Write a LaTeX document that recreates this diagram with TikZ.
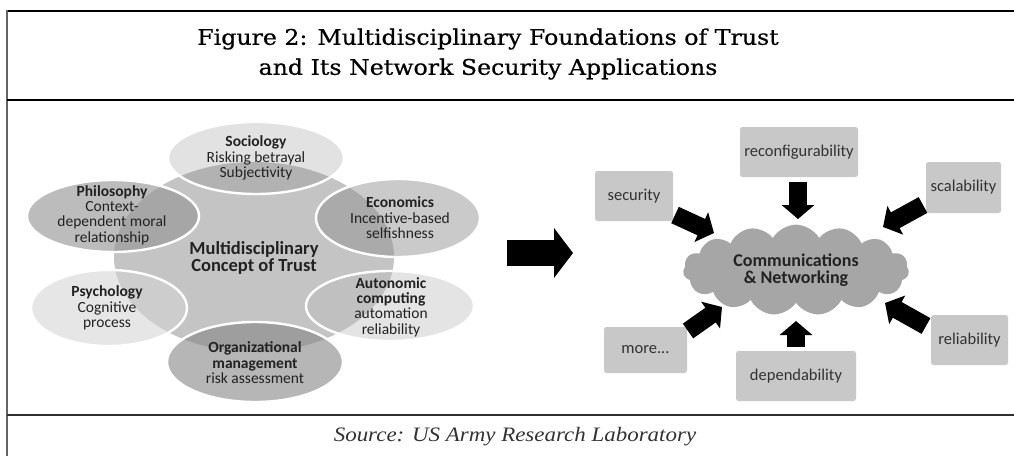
\documentclass[tikz,border=0pt]{standalone}
\usepackage{fontspec}
\setmainfont{Carlito}
\newfontfamily\titlefont[FakeStretch=1.1,FakeBold=0.6]{DejaVu Serif}
\newfontfamily\sourcefont[FakeStretch=1.12]{Liberation Serif}
\usetikzlibrary{arrows.meta,shapes.symbols}

\definecolor{coreGray}{RGB}{196,196,196}
\definecolor{sociologyOut}{RGB}{226,226,226}
\definecolor{sociologyIn}{RGB}{178,178,178}
\definecolor{philosophyOut}{RGB}{188,188,188}
\definecolor{philosophyIn}{RGB}{166,166,166}
\definecolor{economicsOut}{RGB}{202,202,202}
\definecolor{economicsIn}{RGB}{170,170,170}
\definecolor{autonomicOut}{RGB}{228,228,228}
\definecolor{autonomicIn}{RGB}{192,192,192}
\definecolor{organizOut}{RGB}{182,182,182}
\definecolor{organizIn}{RGB}{158,158,158}
\definecolor{psychologyOut}{RGB}{230,230,230}
\definecolor{psychologyIn}{RGB}{205,205,205}
\definecolor{labelInk}{RGB}{34,34,34}
\definecolor{boxGray}{RGB}{200,200,200}
\definecolor{boxInk}{RGB}{50,50,50}
\definecolor{cloudGray}{RGB}{166,166,166}
\definecolor{frameGray}{RGB}{100,100,100}

% one satellite ellipse: centre, x radius, y radius, outer fill, fill where it covers the core
\newcommand\trustpetal[5]{%
  \fill[#4] #1 ellipse [x radius=#2pt, y radius=#3pt];
  \begin{scope}
    \clip (core) ellipse [x radius=140pt, y radius=95pt];
    \fill[#5] #1 ellipse [x radius=#2pt, y radius=#3pt];
  \end{scope}
  \draw[white, line width=2.4pt] #1 ellipse [x radius=#2pt, y radius=#3pt];
}

\tikzset{
  petaltext/.style={align=center, text=labelInk, inner sep=0pt,
    font=\fontsize{15.5}{15.4}\selectfont},
  infobox/.style={fill=boxGray, rounded corners=2.5pt, text=boxInk, inner sep=0pt,
    font=\fontsize{16.5}{18}\selectfont},
  blockarrow/.style={line width=18pt, -{Triangle[width=32pt,length=14pt]}},
  framerule/.style={line width=1.4pt, black},
}

\begin{document}
\begin{tikzpicture}[x=1pt,y=-1pt]
\useasboundingbox (0,0) rectangle (1014,455);
\clip (0,0) rectangle (1014,455);
\fill[white] (0,0) rectangle (1014,455);

% frame and dividers
\draw[framerule] (1020,11) -- (7,11);
\draw[line width=2pt, frameGray] (7,10.3) -- (7,460);
\draw[framerule] (7,100) -- (1020,100);
\draw[line width=2.4pt, black!82] (7,415) -- (1020,415);

% title and source line
\node[font=\titlefont\fontsize{21.5}{30}\selectfont, align=center, inner sep=0pt] (title) at (488,54)
  {Figure 2: Multidisciplinary Foundations of Trust\\and Its Network Security Applications};
\node[font=\sourcefont\itshape\fontsize{20.5}{24}\selectfont, text=black!80, inner sep=0pt] (source) at (515,437)
  {Source: US Army Research Laboratory};

% ---- left: multidisciplinary concept of trust ----
\coordinate (core) at (254,257);
\fill[coreGray] (core) ellipse [x radius=140pt, y radius=95pt];

\trustpetal{(256,158)}{88}{36}{sociologyOut}{sociologyIn}
\trustpetal{(113,216)}{86}{36}{philosophyOut}{philosophyIn}
\trustpetal{(398,218)}{82}{39}{economicsOut}{economicsIn}
\trustpetal{(390,306)}{84}{35}{autonomicOut}{autonomicIn}
\trustpetal{(109,308)}{78}{38}{psychologyOut}{psychologyIn}
\trustpetal{(255,362)}{88}{40}{organizOut}{organizIn}

\node[petaltext] (sociology) at (256,158) {\textbf{Sociology}\\Risking betrayal\\Subjectivity};
\node[petaltext] (philosophy) at (112,215) {\textbf{Philosophy}\\Context-\\dependent moral\\relationship};
\node[petaltext] (economics) at (400,218) {\textbf{Economics}\\Incentive-based\\selfishness};
\node[petaltext] (autonomic) at (391,307) {\textbf{Autonomic}\\\textbf{computing}\\automation\\reliability};
\node[petaltext] (psychology) at (107,308) {\textbf{Psychology}\\Cognitive\\process};
\node[petaltext] (organizational) at (255,363) {\textbf{Organizational}\\\textbf{management}\\risk assessment};
\node[align=center, text=labelInk, inner sep=0pt, font=\fontsize{18.5}{17.5}\selectfont\bfseries]
  (concept) at (254,258) {Multidisciplinary\\Concept of Trust};

% ---- middle arrow ----
\coordinate (leadFrom) at (507,253);
\coordinate (leadTo) at (573,253);
\draw[line width=26pt, -{Triangle[width=49pt,length=19pt]}] (leadFrom) -- (leadTo);

% ---- right: communications & networking ----
\node[cloud, cloud puffs=15, cloud puff arc=120, aspect=2.5, fill=cloudGray,
  minimum width=226pt, minimum height=88pt, inner sep=0pt, align=center, text=labelInk,
  font=\fontsize{18}{16.5}\selectfont\bfseries] (net) at (796,270) {Communications\\\& Networking};

\node[infobox, minimum width=78pt, minimum height=50pt] (security) at (634,196) {security};
\node[infobox, minimum width=118pt, minimum height=50pt] (reconf) at (799,152) {reconfigurability};
\node[infobox, minimum width=75pt, minimum height=51pt] (scal) at (963.5,187.5) {scalability};
\node[infobox, minimum width=83pt, minimum height=46pt] (more) at (645.5,350) {more...};
\node[infobox, minimum width=120pt, minimum height=50pt] (depend) at (796,376) {dependability};
\node[infobox, minimum width=77pt, minimum height=50pt] (reliab) at (969.5,340) {reliability};

\coordinate (secTail) at (675,215);
\coordinate (secTip) at (714,233);
\coordinate (recTail) at (798,182);
\coordinate (recTip) at (798,219);
\coordinate (scaTail) at (923,205);
\coordinate (scaTip) at (883,227);
\coordinate (morTail) at (688,331);
\coordinate (morTip) at (722,307);
\coordinate (depTail) at (796,347);
\coordinate (depTip) at (796,321);
\coordinate (relTail) at (926,326);
\coordinate (relTip) at (885,303);

\draw[blockarrow] (secTail) -- (secTip);
\draw[blockarrow] (recTail) -- (recTip);
\draw[blockarrow] (scaTail) -- (scaTip);
\draw[blockarrow] (morTail) -- (morTip);
\draw[blockarrow] (depTail) -- (depTip);
\draw[blockarrow] (relTail) -- (relTip);
\end{tikzpicture}
\end{document}
